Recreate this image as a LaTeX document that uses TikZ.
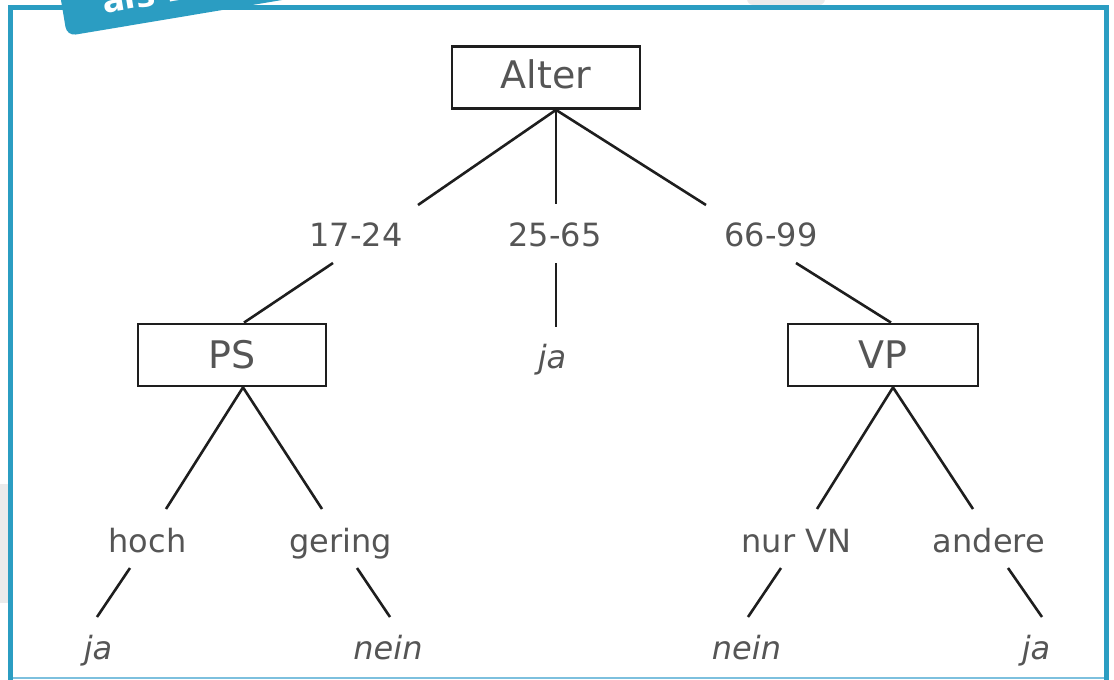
\documentclass[tikz,border=0pt]{standalone}
\usepackage{fontspec}
\setmainfont{DejaVu Sans}
\usetikzlibrary{calc}
\definecolor{frameblue}{RGB}{43,157,194}
\definecolor{lightframe}{RGB}{125,192,222}
\definecolor{patchgray}{RGB}{235,235,235}
\definecolor{inkgray}{RGB}{85,85,85}
\definecolor{linegray}{RGB}{30,30,30}
\begin{document}
\begin{tikzpicture}[x=1pt,y=-1pt,
  box/.style={draw=linegray, line width=2.8pt, minimum width=188pt, minimum height=62pt,
    inner sep=0pt, text=inkgray, font=\fontsize{38}{38}\selectfont, text height=27pt, text depth=0pt},
  lbl/.style={text=inkgray, font=\fontsize{32}{32}\selectfont, inner sep=0pt, anchor=base},
  leaf/.style={lbl, font=\fontsize{32}{32}\selectfont\itshape},
  edge/.style={draw=linegray, line width=2.6pt}]
\useasboundingbox (0,0) rectangle (1114,680);
\clip (0,0) rectangle (1114,680);

% background patches outside the frame
\fill[patchgray] (0,484) rectangle (8,603);
\fill[patchgray, rounded corners=6pt] (747,-12) rectangle (825,5);

% frame
\draw[frameblue, line width=5pt] (10.5,690) -- (10.5,7.5) -- (1106.5,7.5) -- (1106.5,690);
\draw[lightframe, line width=2pt] (13,678) -- (1104,678);

% tilted tab
\begin{scope}[shift={(67,36)}, rotate=9.5]
  \fill[frameblue, rounded corners=9pt] (0,0) rectangle (420,-80);
  \node[text=white, font=\fontsize{33}{33}\selectfont\bfseries, anchor=base west,
        inner sep=0pt, transform shape] (tabtext) at (40,-16) {als Entscheidungsbaum};
\end{scope}

% boxes
\node[box, text depth=5pt] (alter) at (546,77.5) {Alter};
\node[box] (ps) at (232,355) {PS};
\node[box, minimum width=190pt] (vp) at (883,355) {VP};

% branch labels
\node[lbl] (a1) at (356,246) {17-24};
\node[lbl] (a2) at (555,246) {25-65};
\node[lbl] (a3) at (771,246) {66-99};
\node[leaf] (j0) at (552,368) {ja};
\node[lbl] (p1) at (147.5,552) {hoch};
\node[lbl] (p2) at (340.5,552) {gering};
\node[lbl] (v1) at (796.5,552) {nur VN};
\node[lbl] (v2) at (989,552) {andere};
\node[leaf] (p1a) at (98,659) {ja};
\node[leaf] (p2a) at (388,659) {nein};
\node[leaf] (v1a) at (746.5,659) {nein};
\node[leaf] (v2a) at (1036,659) {ja};

% connector end points
\coordinate (alterfoot) at ($(alter.south)+(10,0)$);
\coordinate (pshead) at ($(ps.north)+(12,0)$);
\coordinate (psfoot) at ($(ps.south)+(11,0)$);
\coordinate (vphead) at ($(vp.north)+(8,0)$);
\coordinate (vpfoot) at ($(vp.south)+(10,0)$);
\coordinate (a1top) at (418,205);
\coordinate (a2top) at (556,204);
\coordinate (a3top) at (706,205);
\coordinate (a1bot) at (333,263);
\coordinate (a2bot) at (556,263);
\coordinate (a3bot) at (796,263);
\coordinate (j0top) at (556,327);
\coordinate (p1top) at (166,509);
\coordinate (p2top) at (322,509);
\coordinate (v1top) at (817,509);
\coordinate (v2top) at (973,509);
\coordinate (p1bot) at (130,568);
\coordinate (p2bot) at (357,568);
\coordinate (v1bot) at (781,568);
\coordinate (v2bot) at (1008,568);
\coordinate (p1atop) at (97,617);
\coordinate (p2atop) at (390,617);
\coordinate (v1atop) at (748,617);
\coordinate (v2atop) at (1042,617);

% connectors
\draw[edge] (alterfoot) -- (a1top);
\draw[edge] (alterfoot) -- (a2top);
\draw[edge] (alterfoot) -- (a3top);
\draw[edge] (a1bot) -- (pshead);
\draw[edge] (a2bot) -- (j0top);
\draw[edge] (a3bot) -- (vphead);
\draw[edge] (psfoot) -- (p1top);
\draw[edge] (psfoot) -- (p2top);
\draw[edge] (vpfoot) -- (v1top);
\draw[edge] (vpfoot) -- (v2top);
\draw[edge] (p1bot) -- (p1atop);
\draw[edge] (p2bot) -- (p2atop);
\draw[edge] (v1bot) -- (v1atop);
\draw[edge] (v2bot) -- (v2atop);
\end{tikzpicture}
\end{document}
